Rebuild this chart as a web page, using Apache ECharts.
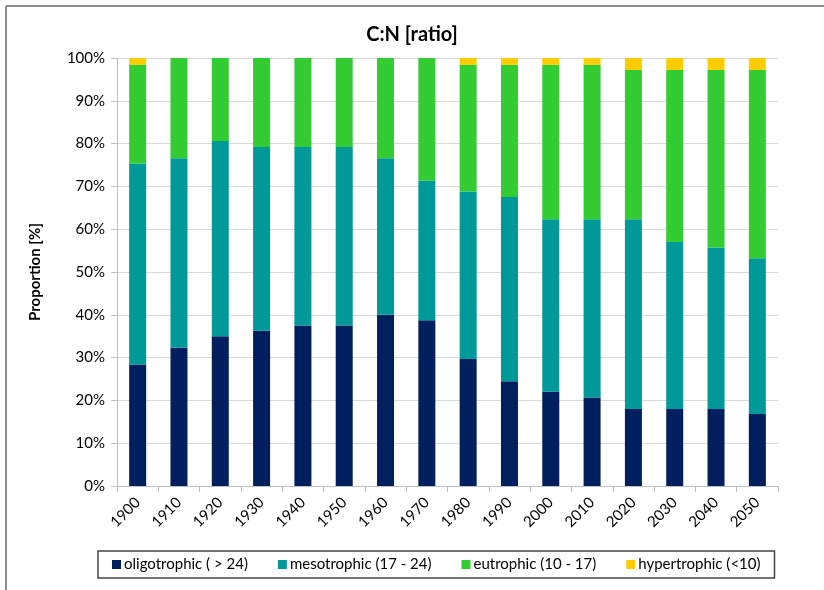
<!DOCTYPE html>
<html>
<head>
<meta charset="utf-8">
<script src="https://cdn.jsdelivr.net/npm/echarts@6/dist/echarts.min.js"></script>
<style>
  html, body { margin: 0; padding: 0; background: #fff; }
  #main { width: 824px; height: 590px; }
</style>
</head>
<body>
<div id="main"></div>
<script>
// categories and series (percent of area per class)
var years = ['1900', '1910', '1920', '1930', '1940', '1950', '1960', '1970',
             '1980', '1990', '2000', '2010', '2020', '2030', '2040', '2050'];
var oligotrophic = [28.4, 32.3, 35.0, 36.3, 37.5, 37.5, 40.0, 38.7, 29.7, 24.5, 22.0, 20.7, 18.0, 18.0, 18.0, 16.8];
var mesotrophic  = [46.9, 44.3, 45.6, 42.9, 41.7, 41.7, 36.6, 32.6, 39.1, 43.0, 40.3, 41.6, 44.3, 39.0, 37.7, 36.4];
var eutrophic    = [23.1, 23.4, 19.4, 20.8, 20.8, 20.8, 23.4, 28.7, 29.6, 30.9, 36.1, 36.1, 34.9, 40.2, 41.5, 44.0];
var hypertrophic = [1.6, 0, 0, 0, 0, 0, 0, 0, 1.6, 1.6, 1.6, 1.6, 2.8, 2.8, 2.8, 2.8];
var seriesNames = ['oligotrophic ( > 24)', 'mesotrophic (17 - 24)', 'eutrophic (10 - 17)', 'hypertrophic (<10)'];
var colors = ['#001F5F', '#009999', '#33CC33', '#FFCC00'];

var FONT = 'Lato, "Open Sans", sans-serif';

function bar(name, data, color) {
  return {
    name: name,
    type: 'bar',
    stack: 'total',
    data: data,
    barWidth: 17,
    itemStyle: { color: color },
    emphasis: { disabled: true }
  };
}

var myChart = echarts.init(document.getElementById('main'));
var option = {
  animation: false,
  textStyle: { fontFamily: FONT },
  title: {
    text: 'C:N [ratio]',
    left: 'center',
    top: 20,
    textStyle: { fontFamily: FONT, fontSize: 20, fontWeight: 'bold', color: '#000' }
  },
  // outer frame of the chart area (top and left edges only visible)
  graphic: [
    { type: 'line', shape: { x1: 6, y1: 6, x2: 824, y2: 6 }, style: { stroke: '#8c8c8c', lineWidth: 2 } },
    { type: 'line', shape: { x1: 6, y1: 6, x2: 6, y2: 590 }, style: { stroke: '#8c8c8c', lineWidth: 2 } }
  ],
  legend: {
    data: seriesNames,
    left: 98,
    top: 551,
    padding: [6, 14, 6, 14],
    borderColor: '#444',
    borderWidth: 1.5,
    itemGap: 30,
    itemWidth: 9,
    itemHeight: 9,
    icon: 'rect',
    textStyle: { fontFamily: FONT, fontSize: 15, color: '#000', padding: [0, 0, 0, -2] }
  },
  grid: { left: 117, right: 46, top: 58, bottom: 104 },
  xAxis: {
    type: 'category',
    data: years,
    axisLine: { lineStyle: { color: '#bfbfbf' } },
    axisTick: { show: true, length: 6, lineStyle: { color: '#bfbfbf' } },
    axisLabel: { rotate: 45, fontSize: 15, color: '#000', fontFamily: FONT, margin: 14 }
  },
  yAxis: {
    type: 'value',
    min: 0,
    max: 100,
    interval: 10,
    name: 'Proportion [%]',
    nameLocation: 'middle',
    nameGap: 74,
    nameTextStyle: { fontFamily: FONT, fontSize: 15, fontWeight: 'bold', color: '#000' },
    axisLine: { show: true, lineStyle: { color: '#bfbfbf' } },
    axisTick: { show: true, length: 6, lineStyle: { color: '#bfbfbf' } },
    splitLine: { lineStyle: { color: '#d9d9d9' } },
    axisLabel: { formatter: '{value}%', fontSize: 15, color: '#000', fontFamily: FONT, margin: 12 }
  },
  series: [
    bar(seriesNames[0], oligotrophic, colors[0]),
    bar(seriesNames[1], mesotrophic, colors[1]),
    bar(seriesNames[2], eutrophic, colors[2]),
    bar(seriesNames[3], hypertrophic, colors[3])
  ]
};
myChart.setOption(option);
</script>
</body>
</html>
